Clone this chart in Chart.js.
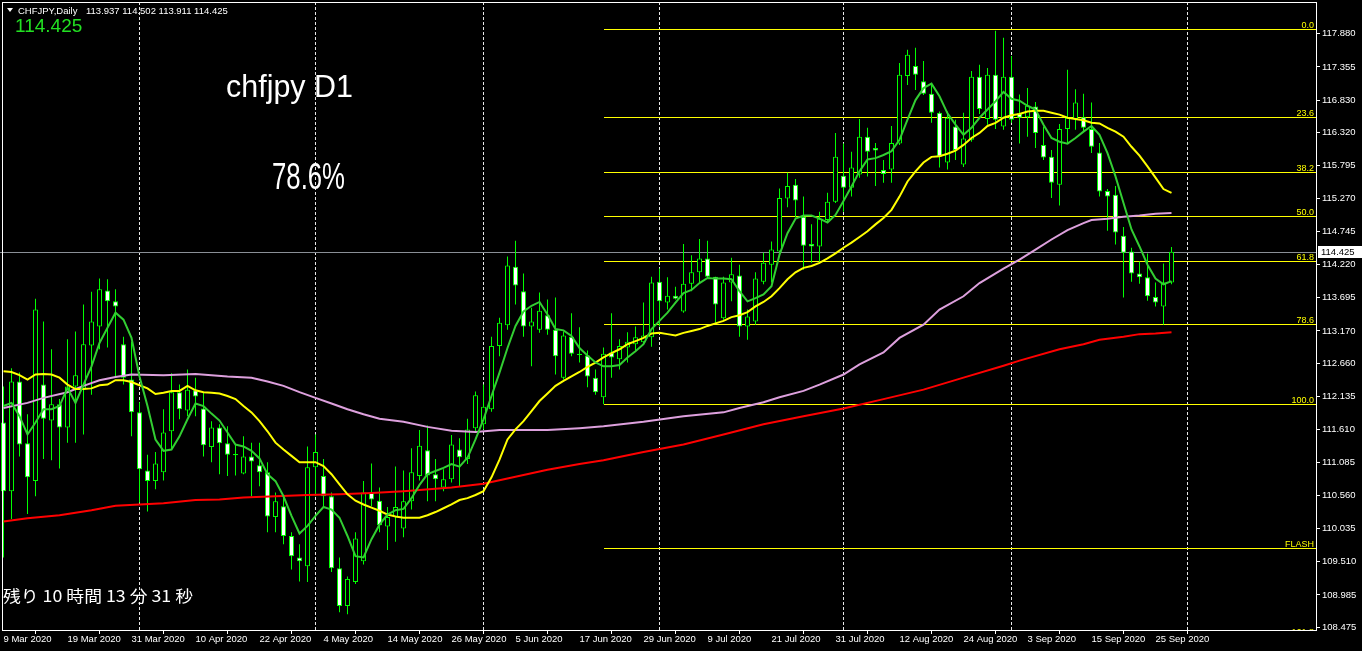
<!DOCTYPE html>
<html lang="ja">
<head>
<meta charset="UTF-8">
<title>CHFJPY Daily</title>
<script src="https://cdn.jsdelivr.net/npm/chart.js"></script>
<style>
  html, body { margin: 0; padding: 0; background: #000; }
  #wrap { width: 1362px; height: 651px; }
  canvas { display: block; }
</style>
</head>
<body>
<div id="wrap"><canvas id="fx" width="1362" height="651"></canvas></div>
<script>
// bar index 0 = 9 Mar 2020 ... 146 = 29 Sep 2020 (every weekday)
const opens = [
  111.72,110.63,112.37,111.39,110.79,112.32,111.75,112.01,111.64,112.29,
  112.26,112.94,113.24,113.81,113.64,112.96,112.40,111.88,110.96,110.79,
  110.93,111.58,112.20,111.91,112.23,111.94,111.33,111.64,111.39,111.20,
  110.91,111.18,111.04,110.93,110.22,110.39,109.92,109.58,109.44,111.01,
  110.87,110.55,109.41,108.81,109.19,109.52,110.61,110.48,110.07,110.22,
  110.04,110.47,110.87,111.28,110.90,110.69,110.82,111.29,111.14,111.63,
  111.69,111.93,112.93,113.26,114.19,113.80,113.24,113.19,113.42,113.19,
  112.43,113.08,112.81,112.78,112.43,112.12,112.83,112.72,112.91,112.96,
  112.99,113.07,113.95,113.62,113.73,113.48,113.92,114.10,114.32,114.03,
  113.37,113.94,114.05,113.24,113.32,113.95,114.22,114.43,115.27,115.49,
  114.98,114.55,114.51,114.93,115.22,115.63,115.44,115.65,116.25,116.07,
  115.72,115.73,116.14,117.21,117.37,117.13,116.93,116.63,115.84,116.41,
  115.81,116.20,117.20,116.53,117.23,116.41,117.20,116.62,116.56,116.73,
  116.12,115.93,115.49,116.37,116.53,116.56,116.37,116.00,115.39,115.33,
  114.68,114.43,114.08,114.02,113.71,113.56,113.937];
const highs = [
  112.29,112.58,112.51,111.85,113.68,113.32,112.88,112.09,113.04,113.16,
  113.59,113.79,114.00,113.99,113.83,113.08,113.00,112.04,111.21,111.25,
  111.93,112.50,112.32,112.56,112.43,112.20,111.74,111.69,111.66,111.37,
  111.50,111.40,111.40,111.09,110.61,110.53,109.98,109.79,111.34,111.53,
  111.14,110.61,109.58,109.28,109.98,110.79,111.07,110.69,110.38,111.02,
  110.96,111.31,111.60,111.67,111.14,110.98,111.52,111.47,111.78,112.21,
  112.32,113.08,113.38,114.35,114.60,114.08,113.54,113.78,113.67,113.70,
  113.16,113.45,113.23,112.86,112.56,112.91,113.45,113.04,113.15,113.24,
  113.62,114.03,114.16,114.02,113.87,114.55,114.37,114.63,114.60,114.03,
  114.03,114.33,114.22,113.51,114.10,114.41,114.59,115.43,115.68,115.58,
  115.30,114.86,115.06,115.36,116.31,116.14,116.01,116.53,116.39,116.15,
  115.88,116.42,117.42,117.63,117.66,117.45,117.07,116.65,116.65,116.52,
  116.63,117.29,117.39,117.34,117.93,117.82,117.53,116.92,117.02,116.80,
  116.41,116.04,116.45,117.31,117.00,116.93,116.79,116.15,115.42,115.47,
  114.82,114.49,114.27,114.40,113.94,114.24,114.502];
const lows = [
  109.58,110.19,111.18,110.27,110.55,111.14,111.12,110.99,111.40,111.40,
  111.53,112.16,112.88,112.91,112.45,112.32,111.50,110.45,110.31,110.66,
  110.80,111.29,111.77,111.82,111.82,111.18,111.09,110.90,110.87,110.88,
  110.90,110.55,110.71,109.98,109.98,109.79,109.39,109.20,109.19,110.55,
  110.39,109.35,108.71,108.68,109.16,109.47,110.39,109.98,109.70,109.83,
  109.90,110.34,110.80,110.47,110.47,110.63,110.77,110.71,111.06,111.56,
  111.61,111.89,112.77,113.19,113.59,113.08,112.61,113.14,113.11,112.48,
  112.40,112.77,112.67,112.28,112.16,112.01,112.43,112.56,112.67,112.85,
  112.96,112.92,113.24,113.51,113.67,113.46,113.80,113.94,114.00,113.30,
  113.35,113.64,113.08,113.03,113.27,113.91,113.94,114.41,115.13,114.97,
  114.14,114.25,114.25,114.89,115.20,115.06,115.30,115.60,115.62,115.47,
  115.52,115.52,116.12,117.07,116.99,116.91,116.47,115.76,115.73,115.88,
  115.77,116.17,116.61,116.44,116.37,116.36,116.47,116.14,116.25,116.07,
  115.88,115.28,115.16,116.15,116.36,116.33,115.99,115.30,114.76,114.54,
  113.70,113.95,113.92,113.65,113.56,113.27,113.911];
const closes = [
  110.63,112.37,111.37,110.85,113.51,111.78,112.01,111.64,112.29,112.47,
  112.96,113.32,113.83,113.64,113.56,112.43,111.88,110.98,110.79,111.07,
  111.56,112.20,111.93,112.24,112.13,111.36,111.64,111.39,111.21,111.22,
  111.18,111.10,110.93,110.23,110.47,109.92,109.60,109.52,111.01,111.25,
  110.55,109.41,108.81,109.24,109.88,110.61,110.50,110.09,110.22,110.38,
  110.47,110.93,111.35,110.88,110.82,110.82,111.37,111.17,111.61,112.15,
  111.97,112.93,113.30,114.21,113.89,113.24,113.32,113.49,113.19,112.77,
  113.10,112.81,112.79,112.45,112.20,112.81,112.75,112.93,113.00,113.07,
  113.10,113.94,113.64,113.73,113.68,113.92,114.10,114.32,114.03,113.59,
  113.94,114.07,113.24,113.40,114.00,114.25,114.46,115.28,115.47,115.24,
  114.52,114.51,114.95,115.22,115.93,115.44,115.76,116.25,116.01,116.03,
  115.66,116.15,117.23,117.55,117.23,116.93,116.63,115.93,116.55,116.04,
  116.22,117.20,116.69,117.23,116.52,117.20,116.52,116.55,116.74,116.31,
  115.92,115.52,116.37,116.55,116.79,116.39,116.09,115.38,115.30,114.73,
  114.41,114.08,114.02,113.72,113.62,113.94,114.425];

// moving averages
const maGreen = [
  111.98,112.03,111.82,111.53,111.72,111.93,111.93,111.98,112.27,112.03,
  112.32,112.61,112.98,113.22,113.46,113.35,113.06,112.45,111.98,111.45,
  111.27,111.29,111.50,111.77,112.02,111.98,111.86,111.75,111.56,111.37,
  111.34,111.27,111.15,110.90,110.79,110.55,110.24,109.96,110.08,110.24,
  110.38,110.34,110.21,109.92,109.60,109.58,109.87,110.10,110.26,110.33,
  110.35,110.52,110.73,110.90,110.95,111.00,111.06,111.02,111.16,111.45,
  111.77,112.14,112.51,112.90,113.25,113.48,113.57,113.63,113.43,113.20,
  113.18,113.09,112.90,112.78,112.67,112.61,112.61,112.63,112.75,112.85,
  112.96,113.20,113.33,113.46,113.62,113.77,113.82,113.93,114.01,114.00,
  114.00,113.99,113.80,113.64,113.69,113.75,113.88,114.38,114.72,114.95,
  115.00,115.00,114.95,114.89,115.01,115.23,115.46,115.70,115.89,115.91,
  115.96,116.02,116.20,116.52,116.83,117.02,117.09,116.89,116.62,116.44,
  116.28,116.39,116.55,116.68,116.81,116.96,116.85,116.82,116.74,116.68,
  116.44,116.23,116.17,116.14,116.23,116.33,116.42,116.28,115.99,115.62,
  115.20,114.78,114.51,114.22,114.00,113.91,113.96];
const maYellow = [
  112.53,112.52,112.47,112.40,112.48,112.49,112.48,112.43,112.32,112.25,
  112.25,112.26,112.31,112.32,112.39,112.39,112.36,112.31,112.26,112.17,
  112.19,112.22,112.22,112.30,112.23,112.20,112.19,112.18,112.14,112.09,
  111.98,111.88,111.74,111.58,111.40,111.29,111.19,111.09,111.09,111.09,
  111.03,110.90,110.74,110.58,110.48,110.42,110.37,110.32,110.26,110.23,
  110.21,110.21,110.21,110.25,110.30,110.36,110.42,110.49,110.52,110.57,
  110.63,110.85,111.13,111.45,111.61,111.74,111.90,112.06,112.18,112.30,
  112.38,112.45,112.52,112.60,112.67,112.75,112.82,112.88,112.96,113.01,
  113.06,113.13,113.14,113.12,113.10,113.14,113.17,113.20,113.25,113.29,
  113.33,113.39,113.42,113.47,113.56,113.63,113.72,113.85,113.99,114.10,
  114.17,114.20,114.25,114.32,114.40,114.49,114.57,114.66,114.75,114.86,
  114.96,115.09,115.30,115.54,115.70,115.84,115.93,115.94,115.98,116.03,
  116.12,116.23,116.31,116.42,116.47,116.55,116.59,116.61,116.65,116.66,
  116.66,116.63,116.60,116.55,116.53,116.51,116.47,116.46,116.39,116.33,
  116.25,116.09,115.95,115.78,115.60,115.42,115.36];
// [bar, value]
const maPink = [
  [0,111.95],[3,112.03],[5,112.11],[8,112.20],[10,112.30],[12,112.39],[14,112.44],
  [16,112.48],[20,112.47],[24,112.49],[28,112.45],[31,112.43],[33,112.37],[35,112.30],
  [37,112.20],[39,112.11],[41,112.02],[43,111.93],[45,111.85],[47,111.78],[50,111.73],
  [53,111.65],[56,111.59],[59,111.57],[62,111.60],[68,111.60],[72,111.63],[75,111.66],
  [80,111.73],[85,111.82],[90,111.88],[92,111.95],[95,112.04],[97,112.12],[100,112.22],
  [102,112.32],[105,112.48],[107,112.64],[110,112.83],[112,113.06],[115,113.27],
  [117,113.51],[120,113.72],[122,113.93],[125,114.16],[127,114.30],[129,114.46],
  [131,114.62],[133,114.77],[135,114.88],[136,114.93],[138,114.95],[140,114.98],
  [142,115.00],[144,115.03],[146,115.04]];
const maRed = [
  [0,110.15],[3,110.20],[7,110.25],[11,110.33],[14,110.40],[17,110.42],[20,110.44],
  [24,110.49],[27,110.50],[30,110.53],[34,110.55],[38,110.57],[42,110.58],[46,110.60],
  [50,110.63],[56,110.69],[60,110.75],[64,110.86],[68,110.97],[72,111.06],[75,111.12],
  [80,111.25],[85,111.37],[90,111.53],[95,111.69],[100,111.82],[105,111.94],[110,112.09],
  [115,112.24],[120,112.43],[125,112.62],[127,112.70],[132,112.88],[135,112.96],
  [137,113.03],[140,113.08],[142,113.12],[144,113.13],[146,113.15]];

// fibonacci retracement
const fibHigh = 117.96;
const fibLow = 112.01;
const fibStart = 75;
const fibRatios = [0, 23.6, 38.2, 50, 61.8, 78.6, 100, 138.2, 161.8];
const fibNames = ['0.0', '23.6', '38.2', '50.0', '61.8', '78.6', '100.0', 'FLASH', '161.8'];

// axes
const yTicks = [108.475,108.985,109.510,110.035,110.560,111.085,111.610,112.135,112.660,
  113.170,113.695,114.220,114.745,115.270,115.795,116.320,116.830,117.355,117.880];
const dateIdx = [0,8,16,24,32,40,48,56,64,72,80,88,96,104,112,120,128,136,144];
const dateLabels = ['9 Mar 2020','19 Mar 2020','31 Mar 2020','10 Apr 2020','22 Apr 2020',
  '4 May 2020','14 May 2020','26 May 2020','5 Jun 2020','17 Jun 2020','29 Jun 2020',
  '9 Jul 2020','21 Jul 2020','31 Jul 2020','12 Aug 2020','24 Aug 2020','3 Sep 2020',
  '15 Sep 2020','25 Sep 2020'];
const monthIdx = [17, 39, 60, 82, 105, 126, 148];

const X_MIN = -0.4375, X_MAX = 164.0625;
const Y_MIN = 108.43, Y_MAX = 118.385;
const last = closes.length - 1;

const bars = closes.map((c, i) => i);
const fibLevels = fibRatios.map(r => fibHigh - r / 100 * (fibHigh - fibLow));

const datasets = [];
datasets.push({
  type: 'bar', order: 21, grouped: false,
  data: bars.map(i => ({x: i, y: [lows[i], highs[i]]})),
  backgroundColor: '#00ff00', borderWidth: 0, maxBarThickness: 1, inflateAmount: 0
});
datasets.push({
  type: 'bar', order: 20, grouped: false,
  data: bars.map(i => ({x: i, y: [opens[i], closes[i]]})),
  backgroundColor: bars.map(i => closes[i] < opens[i] ? '#ffffff' : '#000000'),
  borderColor: '#00ff00', borderWidth: 1, borderSkipped: false,
  maxBarThickness: 5, inflateAmount: 0
});
const maLine = (pts, color, order) => ({
  type: 'line', order: order, data: pts,
  borderColor: color, borderWidth: 2, pointRadius: 0, tension: 0
});
datasets.push(maLine(maRed.map(p => ({x: p[0], y: p[1]})), '#ff0000', 5));
datasets.push(maLine(maPink.map(p => ({x: p[0], y: p[1]})), '#dda0dd', 4));
datasets.push(maLine(maYellow.map((v, i) => ({x: i, y: v})), '#ffff00', 3));
datasets.push(maLine(maGreen.map((v, i) => ({x: i, y: v})), '#32cd32', 2));

function fitText(ctx, txt, x, y, font, color, w) {
  ctx.font = font;
  const m = ctx.measureText(txt).width;
  ctx.save();
  ctx.translate(x, y);
  ctx.scale(w / m, 1);
  ctx.fillStyle = color;
  ctx.fillText(txt, 0, 0);
  ctx.restore();
}

// horizontal 1px line snapped to the pixel grid
function hLine(ctx, x0, x1, py, color) {
  const yy = Math.round(py) + 0.5;
  ctx.strokeStyle = color;
  ctx.beginPath();
  ctx.moveTo(x0, yy);
  ctx.lineTo(x1, yy);
  ctx.stroke();
}

const mt4 = {
  id: 'mt4',
  beforeDraw(chart) {
    const ctx = chart.ctx;
    ctx.save();
    ctx.fillStyle = '#000';
    ctx.fillRect(0, 0, chart.width, chart.height);
    ctx.restore();
  },
  beforeDatasetsDraw(chart) {
    const {ctx, chartArea: a, scales: {x, y}} = chart;
    ctx.save();
    ctx.beginPath();
    ctx.rect(a.left, a.top, a.right - a.left, a.bottom - a.top);
    ctx.clip();
    ctx.lineWidth = 1;
    // month separators
    ctx.strokeStyle = '#e8e8e8';
    ctx.setLineDash([3, 2]);
    monthIdx.forEach(m => {
      const px = x.getPixelForValue(m);
      ctx.beginPath();
      ctx.moveTo(px, a.top);
      ctx.lineTo(px, a.bottom);
      ctx.stroke();
    });
    ctx.setLineDash([]);
    // fibo levels
    const fx = Math.round(x.getPixelForValue(fibStart));
    fibLevels.forEach(lv => hLine(ctx, fx, a.right, y.getPixelForValue(lv), '#ffff00'));
    // current price line
    hLine(ctx, a.left, a.right, y.getPixelForValue(closes[last]), '#8a8f96');
    ctx.restore();
  },
  afterDraw(chart) {
    const {ctx, chartArea: a, scales: {y}} = chart;
    ctx.save();
    // frame
    ctx.strokeStyle = '#fff';
    ctx.lineWidth = 1;
    ctx.strokeRect(2.5, a.top + 0.5, a.right - 2, a.bottom - a.top);

    // fib labels
    ctx.save();
    ctx.beginPath();
    ctx.rect(a.left, a.top, a.right - a.left, a.bottom - a.top);
    ctx.clip();
    ctx.font = '9px "Liberation Sans"';
    ctx.fillStyle = '#ffff00';
    ctx.textAlign = 'right';
    ctx.textBaseline = 'alphabetic';
    fibLevels.forEach((lv, k) => {
      ctx.fillText(fibNames[k], a.right - 2, Math.round(y.getPixelForValue(lv)) - 1);
    });
    ctx.restore();

    // current price tag
    const py = Math.round(y.getPixelForValue(closes[last]));
    ctx.fillStyle = '#fff';
    ctx.fillRect(a.right + 2, py - 6, 44, 12);
    ctx.fillStyle = '#000';
    ctx.font = '9.5px "Liberation Sans"';
    ctx.textAlign = 'left';
    ctx.textBaseline = 'middle';
    ctx.fillText(closes[last].toFixed(3), a.right + 5, py + 0.5);

    // header
    ctx.fillStyle = '#fff';
    ctx.beginPath();
    ctx.moveTo(7, 8); ctx.lineTo(13, 8); ctx.lineTo(10, 12); ctx.closePath();
    ctx.fill();
    ctx.textBaseline = 'alphabetic';
    ctx.font = '9.5px "Liberation Sans"';
    ctx.fillText('CHFJPY,Daily', 18, 14);
    ctx.fillText([opens[last], highs[last], lows[last], closes[last]].map(v => v.toFixed(3)).join(' '), 86, 14);
    ctx.fillStyle = '#22e022';
    ctx.font = '19px "Liberation Sans"';
    ctx.fillText(closes[last].toFixed(3), 15, 32);

    fitText(ctx, 'chfjpy D1', 226, 97, '31px "Liberation Sans"', '#fff', 127);
    fitText(ctx, '78.6%', 272, 189, '36px "Liberation Sans"', '#fff', 73);
    ctx.textBaseline = 'middle';
    fitText(ctx, '残り 10 時間 13 分 31 秒', 3, 596, '16px "Noto Sans CJK JP"', '#fff', 190);
    ctx.restore();
  }
};

new Chart(document.getElementById('fx'), {
  type: 'bar',
  data: { datasets: datasets },
  options: {
    responsive: false,
    animation: false,
    events: [],
    layout: { padding: { left: 0, top: 2, right: 0, bottom: 0 } },
    plugins: { legend: { display: false }, tooltip: { enabled: false } },
    scales: {
      x: {
        type: 'linear', min: X_MIN, max: X_MAX, offset: false,
        afterBuildTicks: s => { s.ticks = dateIdx.map(v => ({value: v})); },
        afterFit: s => { s.height = 21; s.paddingLeft = 0; s.paddingRight = 0; },
        grid: { display: true, drawOnChartArea: false, drawTicks: true, tickLength: 4, color: '#fff' },
        border: { display: false },
        ticks: {
          autoSkip: false, maxRotation: 0, minRotation: 0, align: 'start', padding: 0,
          color: '#fff', font: { family: 'Liberation Sans', size: 9.5 },
          callback: v => { const k = dateIdx.indexOf(v); return k >= 0 ? dateLabels[k] : ''; }
        }
      },
      y: {
        type: 'linear', position: 'right', min: Y_MIN, max: Y_MAX,
        afterBuildTicks: s => { s.ticks = yTicks.map(v => ({value: v})); },
        afterFit: s => { s.width = 46; s.paddingTop = 0; s.paddingBottom = 0; },
        grid: { display: true, drawOnChartArea: false, drawTicks: true, tickLength: 4, color: '#fff' },
        border: { display: false },
        ticks: {
          padding: 2, color: '#fff', font: { family: 'Liberation Sans', size: 9.5 },
          callback: v => v.toFixed(3)
        }
      }
    }
  },
  plugins: [mt4]
});
</script>
</body>
</html>
